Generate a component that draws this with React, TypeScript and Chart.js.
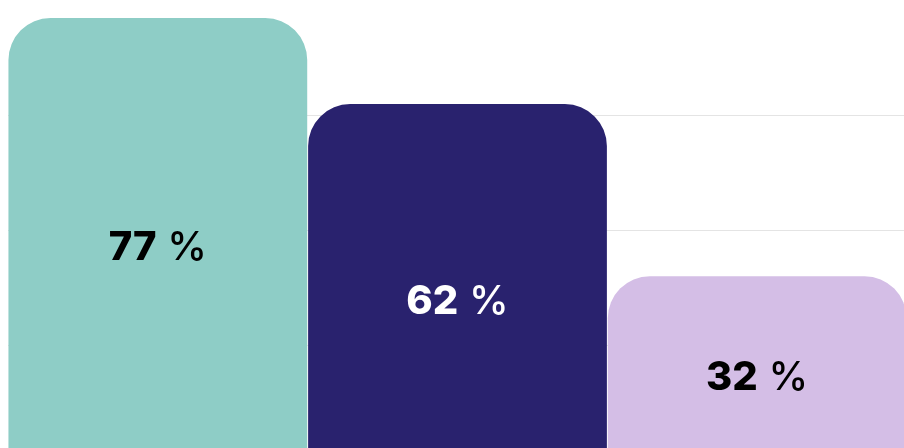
import React, { useEffect, useRef } from "react";
import { Chart, registerables } from "chart.js";

Chart.register(...registerables);

const categories = ["A", "B", "C"];
const values = [77, 62, 32];
const barColors = ["#8ECDC6", "#29226E", "#D4BEE6"];
const labelColors = ["#000000", "#FFFFFF", "#000000"];
const labelFractions = [0.52, 0.558, 0.556];
const gridTicks = [0, 20, 40, 60];

const labelPlugin = {
  id: "valueLabels",
  afterDatasetsDraw(chart: any) {
    const ctx = chart.ctx;
    const meta = chart.getDatasetMeta(0);
    meta.data.forEach((el: any, i: number) => {
      const num = String(values[i]);
      const suffix = " %";
      const y = el.y + labelFractions[i] * (el.base - el.y);
      ctx.save();
      ctx.textBaseline = "middle";
      ctx.textAlign = "left";
      ctx.fillStyle = labelColors[i];
      const boldFont = "800 40px Inter, 'Open Sans', sans-serif";
      const normFont = "500 40px Inter, 'Open Sans', sans-serif";
      ctx.font = boldFont;
      const w1 = ctx.measureText(num).width;
      ctx.font = normFont;
      const w2 = ctx.measureText(suffix).width;
      const x0 = el.x - (w1 + w2) / 2;
      ctx.font = boldFont;
      ctx.fillText(num, x0, y);
      ctx.font = normFont;
      ctx.fillText(suffix, x0 + w1, y);
      ctx.restore();
    });
  },
};

export default function App() {
  const ref = useRef<HTMLCanvasElement | null>(null);
  useEffect(() => {
    if (!ref.current) return;
    const chart = new Chart(ref.current, {
      type: "bar",
      data: {
        labels: categories,
        datasets: [
          {
            data: values,
            backgroundColor: barColors,
            borderWidth: 0,
            borderRadius: { topLeft: 42, topRight: 42, bottomLeft: 0, bottomRight: 0 },
            borderSkipped: false,
            categoryPercentage: 1,
            barPercentage: 0.997,
          },
        ],
      },
      options: {
        responsive: false,
        animation: false,
        layout: { padding: 0 },
        plugins: { legend: { display: false }, tooltip: { enabled: false } },
        scales: {
          x: { display: false },
          y: {
            display: true,
            min: 0,
            max: 78.74,
            afterBuildTicks: (scale: any) => {
              scale.ticks = gridTicks.map((v) => ({ value: v }));
            },
            ticks: { display: false },
            border: { display: false },
            grid: { color: "#E4E4E4", lineWidth: 1, drawTicks: false },
          },
        },
      },
      plugins: [labelPlugin],
    });
    return () => chart.destroy();
  }, []);
  return (
    <div style={{ position: "fixed", left: 8, top: 8, right: 0, bottom: 0, overflow: "hidden" }}>
      <canvas ref={ref} width={899} height={452} style={{ width: 899, height: 452, display: "block" }} />
    </div>
  );
}
